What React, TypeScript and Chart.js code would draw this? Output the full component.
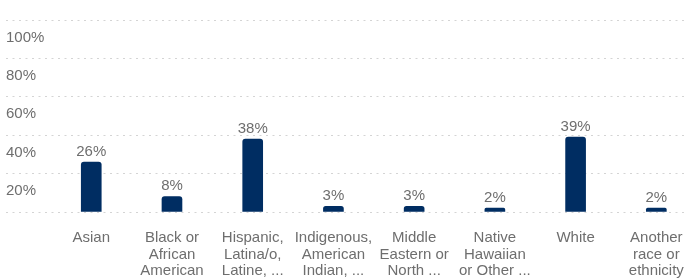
import React, { useEffect, useRef } from "react";
import { Chart, registerables } from "chart.js";

Chart.register(...registerables);

const CATEGORIES: string[][] = [
  ["Asian"],
  ["Black or", "African", "American"],
  ["Hispanic,", "Latina/o,", "Latine, ..."],
  ["Indigenous,", "American", "Indian, ..."],
  ["Middle", "Eastern or", "North ..."],
  ["Native", "Hawaiian", "or Other ..."],
  ["White"],
  ["Another", "race or", "ethnicity"],
];
const VALUES: number[] = [26, 8, 38, 3, 3, 2, 39, 2];
const Y_TICKS: number[] = [0, 20, 40, 60, 80, 100];

const BAR_COLOR = "#002d62";
const TEXT_COLOR = "#6e6e6e";
const GRID_COLOR = "#d4d4d4";
const FONT = "'Liberation Sans', Arial, sans-serif";

const valueLabels = {
  id: "valueLabels",
  afterDatasetsDraw(chart: any) {
    const ctx = chart.ctx;
    const meta = chart.getDatasetMeta(0);
    ctx.save();
    ctx.font = `15px ${FONT}`;
    ctx.fillStyle = TEXT_COLOR;
    ctx.textAlign = "center";
    ctx.textBaseline = "alphabetic";
    meta.data.forEach((bar: any, i: number) => {
      ctx.fillText(`${VALUES[i]}%`, bar.x, bar.y - 6.5);
    });
    ctx.restore();
  },
};

export default function App() {
  const canvasRef = useRef<HTMLCanvasElement>(null);

  useEffect(() => {
    document.body.style.margin = "0";
    const canvas = canvasRef.current;
    if (!canvas) return;
    const chart = new Chart(canvas, {
      type: "bar",
      data: {
        datasets: [
          {
            data: VALUES.map((v, i) => ({ x: i, y: v })),
            backgroundColor: BAR_COLOR,
            barThickness: 20,
            borderRadius: { topLeft: 3, topRight: 3, bottomLeft: 0, bottomRight: 0 },
            borderSkipped: false,
          },
        ],
      },
      options: {
        animation: false,
        responsive: true,
        maintainAspectRatio: false,
        layout: { padding: { left: 6, right: 4, top: 20, bottom: 0 } },
        plugins: {
          legend: { display: false },
          tooltip: { enabled: false },
        },
        scales: {
          x: {
            type: "linear",
            offset: false,
            min: -1.0561,
            max: 7.3439,
            grid: { display: false, offset: false },
            border: { display: false },
            afterBuildTicks: (scale: any) => {
              scale.ticks = CATEGORIES.map((_, i) => ({ value: i }));
            },
            afterFit: (scale: any) => {
              scale.height = 67;
            },
            ticks: {
              autoSkip: false,
              maxRotation: 0,
              minRotation: 0,
              padding: 10,
              color: TEXT_COLOR,
              font: { family: FONT, size: 15, lineHeight: 1.1 },
              callback: (value: any) => CATEGORIES[Number(value)] ?? "",
            },
          },
          y: {
            min: 0,
            max: 100,
            afterBuildTicks: (scale: any) => {
              scale.ticks = Y_TICKS.map((v) => ({ value: v }));
            },
            grid: {
              color: GRID_COLOR,
              drawTicks: false,
              lineWidth: 1,
            },
            border: { display: false, dash: [2, 4.5] },
            ticks: {
              mirror: true,
              padding: 0,
              labelOffset: 17.5,
              color: TEXT_COLOR,
              font: { family: FONT, size: 15 },
              callback: (value: any) => (Number(value) === 0 ? "" : `${value}%`),
            },
          },
        },
      },
      plugins: [valueLabels],
    });
    return () => chart.destroy();
  }, []);

  return (
    <div style={{ position: "relative", width: 694, height: 279 }}>
      <canvas ref={canvasRef} />
    </div>
  );
}
